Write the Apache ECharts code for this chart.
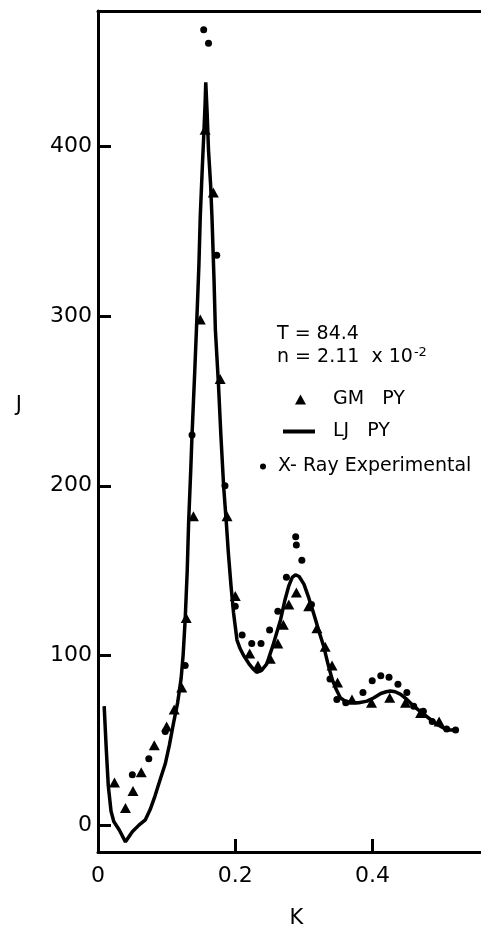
<!DOCTYPE html>
<html>
<head>
<meta charset="utf-8">
<script src="https://cdn.jsdelivr.net/npm/echarts@6/dist/echarts.min.js"></script>
<style>
  html, body { margin: 0; padding: 0; background: #fff; }
  #chart { width: 481px; height: 928px; }
</style>
</head>
<body>
<div id="chart"></div>
<script>
// ---- Data ----
// GM PY (triangles): [K, J]
const gmPY = [
  [0.024, 25], [0.040, 10], [0.051, 20], [0.063, 31], [0.082, 47], [0.100, 58],
  [0.111, 68], [0.122, 81], [0.1285, 122], [0.139, 182], [0.149, 298], [0.156, 410],
  [0.168, 373], [0.178, 263], [0.188, 182], [0.200, 135], [0.221, 101], [0.233, 94],
  [0.251, 98], [0.262, 107], [0.270, 118], [0.278, 130], [0.289, 137], [0.307, 129],
  [0.319, 116], [0.331, 105], [0.341, 94], [0.349, 84], [0.370, 74], [0.3985, 72],
  [0.425, 75], [0.448, 72], [0.470, 66], [0.497, 61]
];
// LJ PY (solid line): [K, J]
const ljPY = [
  [0.009, 70], [0.012, 45], [0.015, 23], [0.019, 8], [0.023, 2], [0.031, -3],
  [0.040, -10], [0.050, -4], [0.060, 0], [0.069, 3], [0.076, 9], [0.083, 17],
  [0.090, 26], [0.098, 36], [0.104, 47], [0.110, 60], [0.116, 72], [0.121, 86],
  [0.124, 100], [0.127, 121], [0.130, 150], [0.132, 178], [0.135, 208], [0.137, 230],
  [0.141, 268], [0.144, 298], [0.147, 330], [0.149, 359], [0.152, 388], [0.154, 406],
  [0.156, 425], [0.157, 438], [0.159, 420], [0.161, 398], [0.164, 378], [0.166, 359],
  [0.169, 322], [0.171, 292], [0.1756, 259], [0.179, 230], [0.183, 200], [0.187, 178],
  [0.190, 160], [0.194, 140], [0.1975, 125], [0.2025, 109], [0.207, 104], [0.212, 100],
  [0.220, 95], [0.226, 92], [0.231, 90], [0.238, 91], [0.246, 95], [0.255, 106],
  [0.266, 121], [0.272, 132], [0.278, 141], [0.283, 146], [0.2876, 147.5], [0.293, 146.5],
  [0.300, 142], [0.307, 134], [0.314, 125], [0.322, 114], [0.329, 105], [0.335, 95],
  [0.341, 86], [0.347, 80], [0.353, 75], [0.360, 73], [0.368, 72], [0.380, 72],
  [0.392, 73], [0.402, 75], [0.412, 77.5], [0.420, 78.5], [0.426, 79], [0.433, 78.5],
  [0.441, 77], [0.450, 74], [0.460, 70], [0.472, 66], [0.485, 62], [0.495, 59],
  [0.504, 57], [0.512, 56], [0.519, 56]
];
// X-Ray Experimental (dots): [K, J]
const xray = [
  [0.050, 29.5], [0.074, 39], [0.098, 55], [0.127, 94], [0.137, 230], [0.154, 469],
  [0.161, 461], [0.173, 336], [0.185, 200], [0.200, 129], [0.210, 112], [0.224, 107],
  [0.2375, 107], [0.250, 115], [0.262, 126], [0.2745, 146], [0.288, 170], [0.289, 165],
  [0.297, 156], [0.311, 130], [0.338, 86], [0.348, 74], [0.361, 72], [0.386, 78],
  [0.3995, 85], [0.412, 88], [0.424, 87], [0.437, 83], [0.450, 78], [0.460, 70],
  [0.474, 67], [0.487, 61], [0.508, 56.5], [0.521, 56]
];
const xTicks = [0, 0.2, 0.4];
const yTicks = [0, 100, 200, 300, 400];
const seriesNames = ['GM PY', 'LJ PY', 'X- Ray Experimental'];
const annotation = ['T = 84.4', 'n = 2.11  x 10{sup|-2}'];

// ---- Chart ----
const FONT = 'DejaVu Sans';
const chart = echarts.init(document.getElementById('chart'), null, { renderer: 'canvas' });
const axisColor = '#000';

const option = {
  backgroundColor: '#fff',
  animation: false,
  textStyle: { fontFamily: FONT, color: '#000' },
  grid: { left: 98, right: 0, top: 11, bottom: 76, containLabel: false, outerBoundsMode: 'none' },
  title: {
    text: annotation.join('\n'),
    left: 277,
    top: 323,
    padding: 0,
    textStyle: {
      fontFamily: FONT, fontSize: 19, fontWeight: 'normal', color: '#000', lineHeight: 23,
      rich: { sup: { fontFamily: FONT, fontSize: 13, color: '#000', verticalAlign: 'top', padding: [0, 0, 12, 1] } }
    }
  },
  legend: [
    {
      data: [{ name: seriesNames[0], icon: 'triangle' }],
      left: 295, top: 390, padding: 0, selectedMode: false,
      itemWidth: 11, itemHeight: 10,
      formatter: n => n.replace(' ', '   '),
      textStyle: { fontFamily: FONT, fontSize: 19, color: '#000', padding: [0, 0, 0, 22] }
    },
    {
      data: [{ name: seriesNames[1], icon: 'rect' }],
      left: 283, top: 422, padding: 0, selectedMode: false,
      itemWidth: 32, itemHeight: 4,
      formatter: n => n.replace(' ', '   '),
      textStyle: { fontFamily: FONT, fontSize: 19, color: '#000', padding: [0, 0, 0, 13] }
    },
    {
      data: [{ name: seriesNames[2], icon: 'circle' }],
      left: 260, top: 457, padding: 0, selectedMode: false,
      itemWidth: 6, itemHeight: 6,
      textStyle: { fontFamily: FONT, fontSize: 19, color: '#000', padding: [0, 0, 0, 7] }
    }
  ],
  xAxis: [
    {
      type: 'value', min: 0, max: 0.558, position: 'bottom',
      name: 'K', nameLocation: 'middle', nameGap: 56,
      nameTextStyle: { fontFamily: FONT, fontSize: 21, color: '#000', padding: [0, 0, 0, 14] },
      axisLine: { show: true, onZero: false, lineStyle: { color: axisColor, width: 3 } },
      axisTick: { show: true, inside: true, length: 13, customValues: xTicks, lineStyle: { color: axisColor, width: 3 } },
      axisLabel: {
        show: true, margin: 13, customValues: xTicks, fontFamily: FONT, fontSize: 22, color: '#000',
        formatter: v => (v === 0 ? '0' : String(v))
      },
      splitLine: { show: false }
    },
    {
      type: 'value', min: 0, max: 0.558, position: 'top',
      axisLine: { show: true, onZero: false, lineStyle: { color: axisColor, width: 3 } },
      axisTick: { show: false }, axisLabel: { show: false }, splitLine: { show: false }
    }
  ],
  yAxis: {
    type: 'value', min: -16, max: 480,
    name: 'J\n\n', nameLocation: 'middle', nameGap: 76, nameRotate: 0,
    nameTextStyle: { fontFamily: FONT, fontSize: 21, color: '#000', lineHeight: 26 },
    axisLine: { show: true, onZero: false, lineStyle: { color: axisColor, width: 3 } },
    axisTick: { show: true, inside: true, length: 13, customValues: yTicks, lineStyle: { color: axisColor, width: 3 } },
    axisLabel: { show: true, margin: 6, customValues: yTicks, fontFamily: FONT, fontSize: 22, color: '#000' },
    splitLine: { show: false }
  },
  series: [
    {
      name: seriesNames[1], type: 'line', data: ljPY, xAxisIndex: 0,
      showSymbol: false, symbol: 'none', smooth: false,
      lineStyle: { color: '#000', width: 3.5, opacity: 1 }, itemStyle: { color: '#000', opacity: 1 }, z: 2
    },
    {
      name: seriesNames[0], type: 'scatter', data: gmPY, xAxisIndex: 0,
      symbol: 'triangle', symbolSize: [11, 10],
      itemStyle: { color: '#000', opacity: 1 }, z: 3
    },
    {
      name: seriesNames[2], type: 'scatter', data: xray, xAxisIndex: 0,
      symbol: 'circle', symbolSize: 7,
      itemStyle: { color: '#000', opacity: 1 }, z: 3
    }
  ]
};
chart.setOption(option);
</script>
</body>
</html>
